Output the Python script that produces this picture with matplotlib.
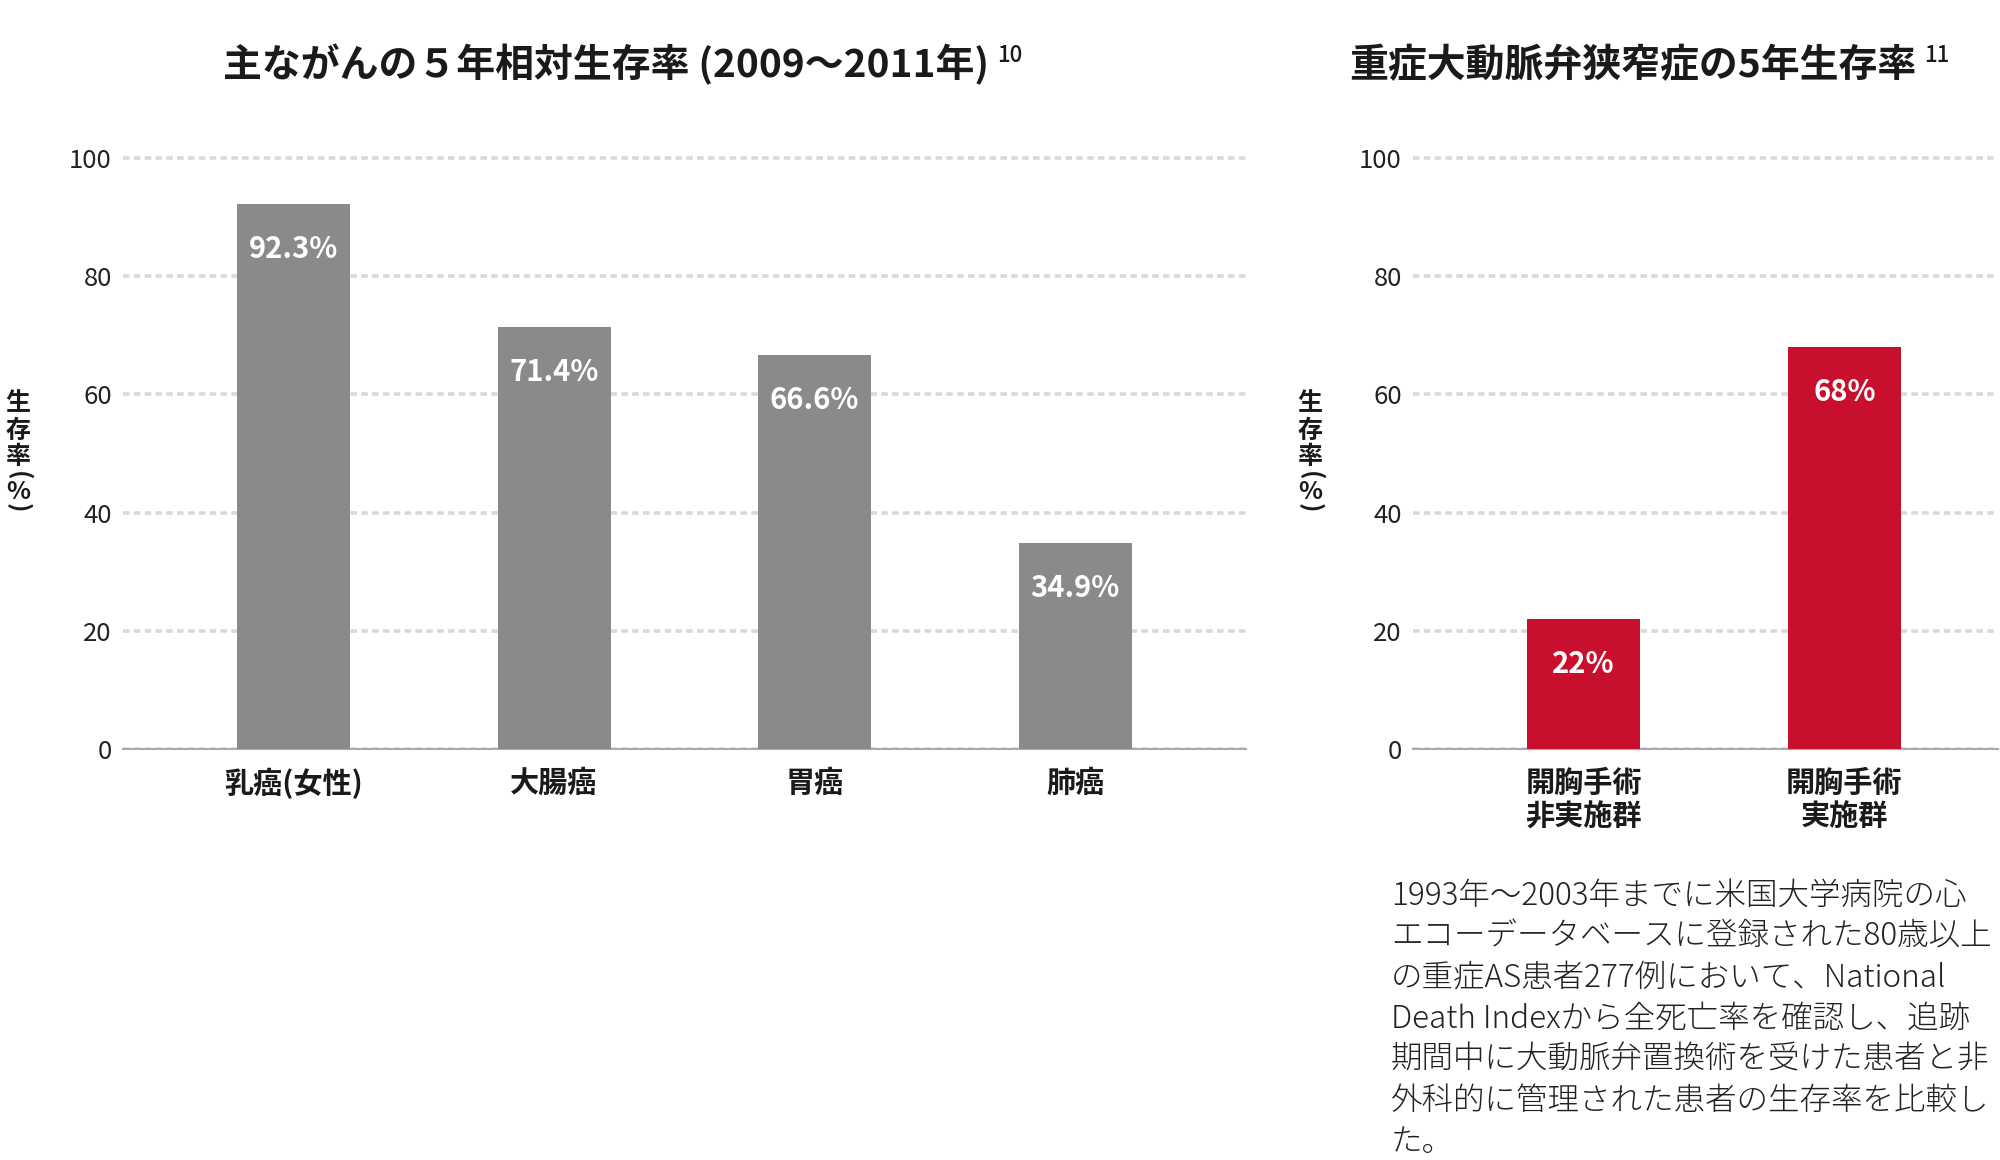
import matplotlib
matplotlib.use("Agg")
import matplotlib.pyplot as plt

plt.rcParams['font.family'] = ['Noto Sans CJK JP', 'DejaVu Sans']

# ---------------- data ----------------
left_title = "主ながんの５年相対生存率 (2009〜2011年)"
left_ref = "10"
left_categories = ["乳癌(女性)", "大腸癌", "胃癌", "肺癌"]
left_values = [92.3, 71.4, 66.6, 34.9]

right_title = "重症大動脈弁狭窄症の5年生存率"
right_ref = "11"
right_categories = ["開胸手術\n非実施群", "開胸手術\n実施群"]
right_values = [22, 68]

y_ticks = [0, 20, 40, 60, 80, 100]
ylabel_chars = ["生", "存", "率", "(", "%", ")"]

note_lines = [
    "1993年〜2003年までに米国大学病院の心",
    "エコーデータベースに登録された80歳以上",
    "の重症AS患者277例において、National",
    "Death Indexから全死亡率を確認し、追跡",
    "期間中に大動脈弁置換術を受けた患者と非",
    "外科的に管理された患者の生存率を比較し",
    "た。",
]

GRAY = "#898b8b"
RED = "#c8102e"
TEXT = "#1a1a1a"

W, H = 2000, 1160
fig = plt.figure(figsize=(W / 100, H / 100), dpi=100)


def fx(x):
    return x / W


def fy(y):
    return 1 - y / H


def make_axes(x0, x1, cats, vals, color, xlim):
    y0, ytop = 749, 749 - 591 * 1.02
    ax = fig.add_axes([fx(x0), fy(y0), (x1 - x0) / W, (y0 - ytop) / H])
    xs = list(range(len(cats)))
    ax.bar(xs, vals, width=0.434, color=color, zorder=3)
    ax.set_xlim(*xlim)
    ax.set_ylim(0, 102)
    ax.set_yticks(y_ticks)
    ax.set_yticklabels([str(t) for t in y_ticks], fontsize=18.5, color="#222222")
    ax.set_xticks(xs)
    ax.set_xticklabels(cats, fontsize=21, fontweight="bold", color=TEXT,
                       linespacing=1.15)
    ax.tick_params(axis="both", length=0)
    ax.tick_params(axis="y", pad=8)
    ax.tick_params(axis="x", pad=13.5)
    for s in ["top", "right", "left"]:
        ax.spines[s].set_visible(False)
    ax.spines["bottom"].set_color("#aaaaaa")
    ax.spines["bottom"].set_linewidth(1.5)
    ax.set_axisbelow(True)
    ax.yaxis.grid(True, color="#d9d9d9", linewidth=2.6,
                  linestyle=(0, (1.8, 1.2)))
    ax.xaxis.grid(False)
    for x, v in zip(xs, vals):
        ax.annotate(f"{v:g}%", (x, v), xytext=(0, -54 * 0.72),
                    textcoords="offset points", ha="center", va="baseline",
                    color="white", fontsize=21, fontweight="bold", zorder=4)
    return ax


ax1 = make_axes(123, 1246, left_categories, left_values, GRAY, (-0.654, 3.655))
ax2 = make_axes(1413, 1998, right_categories, right_values, RED, (-0.655, 1.59))


def vertical_label(xc):
    ys = [403, 431, 457, 476, 492, 508]
    for ch, y in zip(ylabel_chars, ys):
        rot = -90 if ch in "()" else 0
        fig.text(fx(xc), fy(y), ch, ha="center", va="center", rotation=rot,
                 fontsize=18, fontweight="bold", color=TEXT)


vertical_label(18)
vertical_label(1310)

# titles with superscript reference numbers
fig.canvas.draw()
renderer = fig.canvas.get_renderer()


def title_with_ref(xc, text, ref):
    t = fig.text(fx(xc), fy(77), text, ha="center", va="baseline",
                 fontsize=28, fontweight="bold", color=TEXT)
    bb = t.get_window_extent(renderer)
    fig.text(fx(bb.x1 + 8), fy(62), ref, ha="left", va="baseline",
             fontsize=16, fontweight="medium", color=TEXT)


title_with_ref(606, left_title, left_ref)
title_with_ref(1633, right_title, right_ref)

for i, line in enumerate(note_lines):
    fig.text(fx(1391), fy(905 + i * 41), line, ha="left", va="baseline",
             fontsize=22.7, fontweight="light", color="#222222")

fig.savefig("out.png", dpi=100, facecolor="white")
